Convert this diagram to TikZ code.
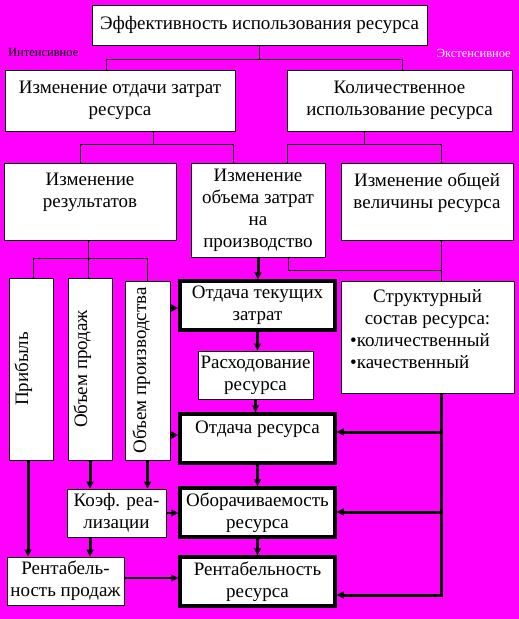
\documentclass[tikz,border=0pt]{standalone}
\usepackage{fontspec}
\setmainfont{Liberation Serif}
\usetikzlibrary{arrows.meta,calc}
\definecolor{mag}{RGB}{255,0,255}
\newcommand\fs{\fontsize{19pt}{22pt}\selectfont}
\newcommand\mybx[7]{\node[#1, minimum width={(#5-#3)*1pt}, minimum height={(#6-#4)*1pt}] (#2) at ({(#3+#5)/2},{(#4+#6)/2}) {#7};}
\begin{document}
\begin{tikzpicture}[x=1pt,y=-1pt,
  box/.style={draw=black, fill=white, line width=1pt, inner sep=0pt, align=center, font=\fs},
  tbox/.style={box, line width=3.5pt},
  vbox/.style={draw=black, fill=white, line width=1pt, inner sep=0pt, rotate=90, font=\fs, minimum height=0pt},
  txt/.style={inner sep=0pt, align=center, font=\fs},
  ln/.style={line width=1pt},
  tk/.style={line width=3pt},
  md/.style={line width=2pt},
  arr/.style={-{Triangle[length=7pt,width=7pt]}},
  small/.style={inner sep=0pt, font=\fontsize{12.5pt}{13pt}\selectfont}]
\fill[mag] (0,0) rectangle (519,619);
\useasboundingbox (0,0) rectangle (519,619);

% boxes
\mybx{box}{top}{92}{5}{427}{45}{Эффективность использования ресурса}
\mybx{box}{ot}{5}{70}{235}{131}{Изменение отдачи затрат\\ресурса}
\mybx{box}{kol}{287}{70}{512}{131}{Количественное\\использование ресурса}
\mybx{box}{res}{4}{163}{176}{240}{}
\node[txt, anchor=north] (resT) at ($(res.north)+(0,10)$) {Изменение\\результатов};
\mybx{box}{obz}{191}{163}{325}{257}{Изменение\\объема затрат\\на\\производство}
\mybx{box}{ovr}{341}{163}{513}{240}{}
\node[txt, anchor=north] (ovrT) at ($(ovr.north)+(0,10)$) {Изменение общей\\величины ресурса};

\node[vbox, minimum width=182pt, text height=19pt, text depth=25pt] (prib) at (31,369) {Прибыль};
\node[vbox, minimum width=182pt, text height=19pt, text depth=25pt] (oprod) at (90,369) {Объем продаж};
\node[vbox, minimum width=179pt, text height=21pt, text depth=24pt] (oproizv) at (147.5,370.5) {Объем производства};

\mybx{tbox}{otz}{180}{281}{335}{330}{Отдача текущих\\затрат}
\mybx{box}{rash}{198}{351}{313}{399}{Расходование\\ресурса}
\mybx{tbox}{or}{180}{414}{335}{463}{}
\node[txt, anchor=north] (orT) at ($(or.north)+(0,8)$) {Отдача ресурса};
\mybx{box}{koef}{67}{489}{166}{537}{Коэф. реа-\\лизации}
\mybx{tbox}{obr}{180}{488}{335}{537}{Оборачиваемость\\ресурса}
\mybx{box}{rp}{7}{557}{124}{605}{Рентабель-\\ность продаж}
\mybx{tbox}{rr}{180}{557}{335}{606}{Рентабельность\\ресурса}
\mybx{box}{str}{341}{281}{514}{393}{}
\node[txt, anchor=north] (strT) at ($(str.north)+(0,9)$) {Структурный\\состав ресурса:};
\node[txt, align=left, anchor=north west] (strB) at (350,333) {•количественный\\•качественный};

\node[small, anchor=west] (lint) at (8,52) {Интенсивное};
\node[small, anchor=east, text=white] (lext) at (511,53) {Экстенсивное};

% bus 1
\coordinate (jL) at (106,59);
\coordinate (jR) at (402,59);
\draw[ln] (top.south) -- (top.south |- jL);
\draw[ln] (jL) -- (jR);
\draw[ln] (jL) -- (jL |- ot.north);
\draw[ln] (jR) -- (jR |- kol.north);
% bus 2
\coordinate (k1) at (153,144);
\coordinate (kL) at (80,144);
\coordinate (kR) at (233,144);
\draw[ln] (k1 |- ot.south) -- (k1);
\draw[ln] (kL) -- (kR);
\draw[ln] (kL) -- (kL |- res.north);
\draw[ln] (kR) -- (kR |- obz.north);
\coordinate (m1) at (364,144);
\coordinate (mL) at (287,144);
\coordinate (mR) at (441,144);
\draw[ln] (m1 |- kol.south) -- (m1);
\draw[ln] (mL) -- (mR);
\draw[ln] (mL) -- (mL |- obz.north);
\draw[ln] (mR) -- (mR |- ovr.north);
% bus 3
\coordinate (r1) at (88,258);
\coordinate (rL) at (33,258);
\coordinate (rR) at (147,258);
\draw[ln] (r1 |- res.south) -- (r1);
\draw[ln] (rL) -- (rR);
\draw[ln] (rL) -- (rL |- prib.east);
\draw[ln] (r1) -- (r1 |- oprod.east);
\draw[ln] (rR) -- (rR |- oproizv.east);
% thin link to structure
\coordinate (n1) at (288,270);
\coordinate (n2) at (441,270);
\draw[ln] (n1 |- obz.south) -- (n1) -- (n2);
\draw[ln] (n2 |- ovr.south) -- (n2 |- str.north);

% thick central chain
\draw[tk,arr] (obz.south) -- (obz.south |- otz.north);
\draw[tk,arr] (otz.south) -- (otz.south |- rash.north);
\draw[tk,arr] (rash.south) -- (rash.south |- or.north);
\draw[tk,arr] (or.south) -- (or.south |- obr.north);
\draw[tk,arr] (obr.south) -- (obr.south |- rr.north);

% left column
\coordinate (p1) at (28,460);
\draw[tk,arr] (p1 |- prib.west) -- (p1 |- rp.north);
\draw[tk,arr] (oprod.west) -- (oprod.west |- koef.north);
\draw[tk,arr] (oproizv.west) -- (oproizv.west |- koef.north);
\draw[tk,arr] (koef.south -| oprod.west) -- (rp.north -| oprod.west);
\draw[md,arr] (koef.east) -- (koef.east -| obr.west);
\draw[md,arr] (rp.east |- 0,578) -- (rr.west |- 0,578);
\coordinate (q1) at (170,308);
\coordinate (q2) at (170,435);
\draw[md,arr] (q1) -- (q1 -| otz.west);
\draw[md,arr] (q2) -- (q2 -| or.west);

% structure line
\coordinate (s1) at (441,595);
\coordinate (sOr) at (441,432);
\coordinate (sObr) at (441,512);
\draw[tk,arr] (s1 |- str.south) -- (s1) -- (s1 -| rr.east);
\draw[tk,arr] (sOr) -- (sOr -| or.east);
\draw[tk,arr] (sObr) -- (sObr -| obr.east);
\end{tikzpicture}
\end{document}
